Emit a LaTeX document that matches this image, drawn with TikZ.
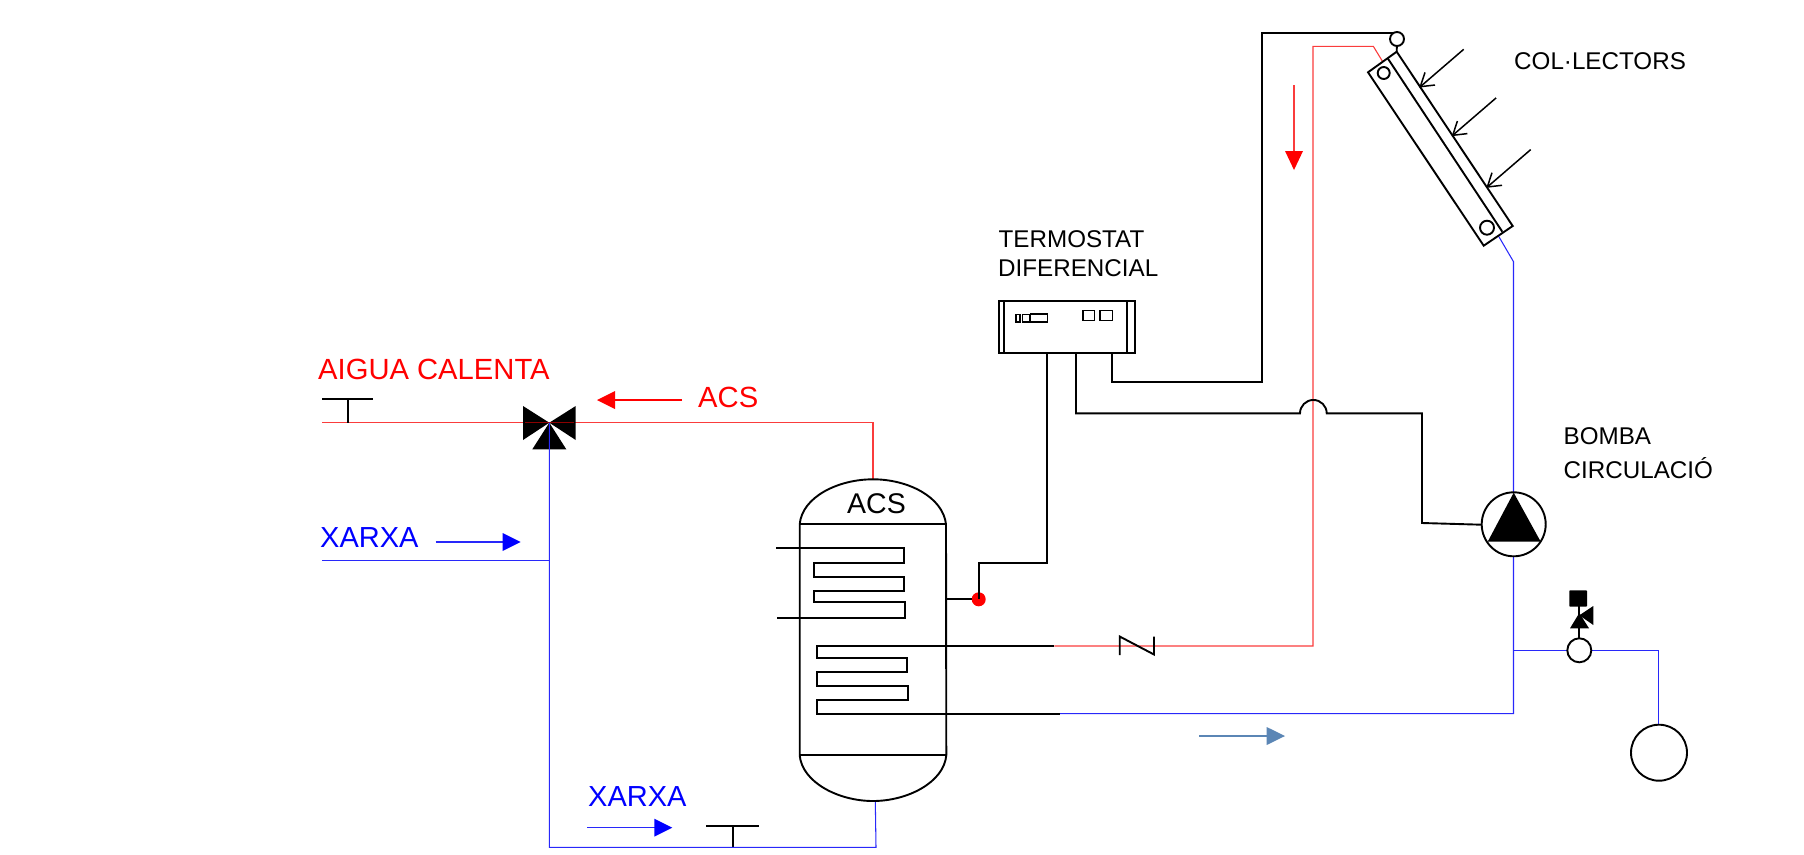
\documentclass[tikz,border=0pt]{standalone}
\usepackage{fontspec}
\setmainfont{Liberation Sans}
\definecolor{wblue}{RGB}{40,40,250}
\definecolor{wred}{RGB}{250,60,60}
\definecolor{steel}{RGB}{91,134,181}
\tikzset{
  wire/.style={draw=black,line width=1.9pt,line join=miter},
  thick wire/.style={draw=black,line width=2.1pt},
  coldpipe/.style={draw=wblue,line width=1.05pt},
  hotpipe/.style={draw=wred,line width=1.1pt},
  lab/.style={anchor=west,inner sep=0pt,font=\fontsize{24.2}{24.2}\selectfont},
  bigred/.style={anchor=west,inner sep=0pt,text=red,font=\fontsize{29.2}{29.2}\selectfont},
  bigblue/.style={anchor=west,inner sep=0pt,text=blue,font=\fontsize{29}{29}\selectfont},
  ring/.style={circle,draw=black,line width=1.9pt,fill=white,inner sep=0pt}
}
\begin{document}
\begin{tikzpicture}[x=1pt,y=-1pt]
\useasboundingbox (0,0) rectangle (1804,854);
% coordinates
\coordinate (hotL) at (322,422.7);
\coordinate (vc) at (549.3,422.7);
\coordinate (hotC) at (873,422.7);
\coordinate (tankTop) at (873,479.3);
\coordinate (tankBot) at (875.3,801);
\coordinate (botC) at (876,847.3);
\coordinate (botL) at (549.3,847.3);
\coordinate (xarxaL) at (322,560.7);
\coordinate (xarxaJ) at (549.3,560.7);
% pipes
\draw[hotpipe] (hotL) -- (vc) -- (hotC) -- (tankTop);
\draw[coldpipe] (xarxaL) -- (xarxaJ);
% T valves
\coordinate (t1a) at (322,398.7); \coordinate (t1b) at (373,398.7);
\coordinate (t1c) at (347.7,398.7); \coordinate (t1d) at (347.7,422.7);
\draw[wire] (t1a) -- (t1b) (t1c) -- (t1d);
\coordinate (t2a) at (706,825.7); \coordinate (t2b) at (759.3,825.7);
\coordinate (t2c) at (732.7,825.7); \coordinate (t2d) at (732.7,847.3);
\draw[wire] (t2a) -- (t2b) (t2c) -- (t2d);
% three-way valve
\fill[black] (523,406) -- (523,440) -- (549.3,422.7) -- cycle;
\fill[black] (575.7,406) -- (575.7,440) -- (549.3,422.7) -- cycle;
\fill[black] (549.3,422.7) -- (532.3,449.3) -- (566.3,449.3) -- cycle;
\draw[line width=1.2pt,color=red!55!black] (525,422.7) -- (574,422.7);
\draw[coldpipe] (tankBot) -- (botC) -- (botL) -- (vc);
% tank
\draw[wire,fill=white] (799.7,524.3) .. controls (802,497) and (838,479.3) .. (873,479.3)
  .. controls (908,479.3) and (943,497) .. (946,524.3) -- (946.3,755.3)
  .. controls (944,782) and (908,801) .. (873,801)
  .. controls (838,801) and (802,782) .. (799.7,755.3) -- cycle;
\draw[wire] (799.7,524.3) -- (946,524.3);
\draw[wire] (799.7,755.3) -- (946.3,755.3);
\node[inner sep=0pt,font=\fontsize{28.5}{28.5}\selectfont] (acsT) at (876.5,504) {ACS};
% coils
\draw[wire] (776,548) -| (904.3,563.3) -| (813.7,576.7) -| (904,590.7) -| (814.3,602) -| (904.7,618.3) -- (777.3,618.3);
\draw[wire] (1054.3,646) -| (816.7,658) -| (907.3,672.3) -| (817,686.3) -| (908,700) -| (816.7,713.7) -- (1060,713.7);
% hot return
\coordinate (hr1) at (1054.3,646);
\coordinate (hr2) at (1313,646);
\coordinate (hr3) at (1313,46.3);
\coordinate (hr4) at (1373.3,46.3);
\coordinate (hr5) at (1382.7,61.7);
\draw[hotpipe] (hr1) -- (hr2) -- (hr3) -- (hr4) -- (hr5);
% check valve
\coordinate (cv1) at (1119.7,636.5); \coordinate (cv2) at (1119.7,655); \coordinate (cv3) at (1154,636.5); \coordinate (cv4) at (1154,654.5);
\draw[wire] (cv2) -- (cv1) -- (cv4) -- (cv3);
% cold return
\coordinate (cr1) at (1060,713.7);
\coordinate (cr2) at (1513.5,713.7);
\coordinate (cr3) at (1513.5,261.7);
\coordinate (cr4) at (1498.3,235.7);
\coordinate (br1) at (1513.5,650.3);
\coordinate (br2) at (1658.7,650.3);
\coordinate (br3) at (1658.7,725);
\draw[coldpipe] (cr1) -- (cr2) -- (cr3) -- (cr4);
\draw[coldpipe] (br1) -- (br2) -- (br3);
% pump
\node[ring,minimum size=64pt] (pump) at (1513.7,524.3) {};
\fill[black] (1513.7,492.7) -- (1540.7,541.7) -- (1487.7,541.7) -- cycle;
% expansion vessel
\node[ring,minimum size=56pt] (vessel) at (1659,752.7) {};
% safety valve
\draw[wire] (1579.3,606) -- (1579.3,640);
\node[ring,minimum size=24pt] (sv) at (1579.3,650.3) {};
\fill[black,rounded corners=0.8pt] (1569.3,590.3) rectangle (1587,606.7);
\fill[black] (1570,628.3) -- (1589,628.3) -- (1579.3,613) -- cycle;
\fill[black] (1593.3,606) -- (1593.3,625) -- (1579.3,615.3) -- cycle;
% collector
\draw[wire,fill=white] (1368,72.3) -- (1396.7,51.7) -- (1512.7,226) -- (1483.7,245.7) -- cycle;
\draw[wire] (1387.7,58.3) -- (1502.3,231.7);
\node[ring,minimum size=12pt] (c1) at (1383.7,73) {};
\node[ring,minimum size=14pt] (c2) at (1487,227.7) {};
\node[ring,minimum size=14pt] (c3) at (1397,39) {};
\draw[wire] (c3) -- (1396.7,51.7);
% sun arrows
\foreach \x/\y in {1420.3/86.7,1452.7/135.3,1487.3/187}{
  \draw[line width=1.5pt] (\x+43.4,\y-37.4) -- (\x,\y);
  \draw[line width=1.5pt] (\x+4.7,\y-14.3) -- (\x,\y) -- (\x+14.7,\y-1.7);
}
% thermostat
\draw[wire,fill=white] (999,301) rectangle (1135,352.7);
\draw[wire] (1004.3,301) -- (1004.3,352.7) (1127,301) -- (1127,352.7);
\draw[line width=1.4pt] (1016,314.3) rectangle (1020,322) (1022.3,314.3) rectangle (1029.3,322) (1030.3,314) rectangle (1047.3,322)
 (1083,310.7) rectangle (1094.3,320.7) (1100,310.7) rectangle (1112.3,320.7);
% control wires
\draw[thick wire] (1111.7,352.7) -- (1111.7,382.3) -- (1261.7,382.3) -- (1261.7,33) -- (1393,33);
\draw[wire] (1076,352.7) -- (1076,413.3) -- (1300,413.3) arc[start angle=180,end angle=360,radius=13.35] -- (1422,413.3) -- (1422,523) -- (1481.7,524.7);
\node[circle,fill=red,minimum size=14pt,inner sep=0pt] (sensor) at (978.7,599.3) {};
\draw[wire] (1047.3,352.7) -- (1047.3,563.3) -- (978.7,563.3) -- (978.7,599.3);
\draw[wire] (946,599.3) -- (972,599.3);
% flow arrows
\draw[line width=1.3pt,color=wred] (1294,85) -- (1294,152);
\fill[red] (1285,151) -- (1303,151) -- (1294,170) -- cycle;
\draw[line width=1.2pt,color=red] (682,400) -- (614,400);
\fill[red] (615,391) -- (615,409) -- (597,400) -- cycle;
\draw[line width=1.3pt,color=wblue] (435.7,542) -- (503,542);
\fill[blue] (502.7,533) -- (502.7,551) -- (520.7,542) -- cycle;
\draw[line width=1.3pt,color=wblue] (587.3,827.7) -- (655,827.7);
\fill[blue] (654.3,818.7) -- (654.3,836.7) -- (672.3,827.7) -- cycle;
\draw[line width=1.2pt,color=steel] (1199,736) -- (1268,736);
\fill[steel] (1266.7,727) -- (1266.7,745) -- (1285,736) -- cycle;
% labels
\node[bigred] (l1) at (318,369) {AIGUA CALENTA};
\node[bigred] (l2) at (698,397) {ACS};
\node[bigblue] (l3) at (320,537.7) {XARXA};
\node[bigblue] (l4) at (588,797) {XARXA};
\node[lab] (l5) at (998.5,239.5) {TERMOSTAT};
\node[lab] (l6) at (998,268.5) {DIFERENCIAL};
\node[lab] (l7) at (1514,61) {COL·LECTORS};
\node[lab] (l8) at (1563.5,436) {BOMBA};
\node[lab] (l9) at (1563.5,468) {CIRCULACIÓ};
\end{tikzpicture}
\end{document}
